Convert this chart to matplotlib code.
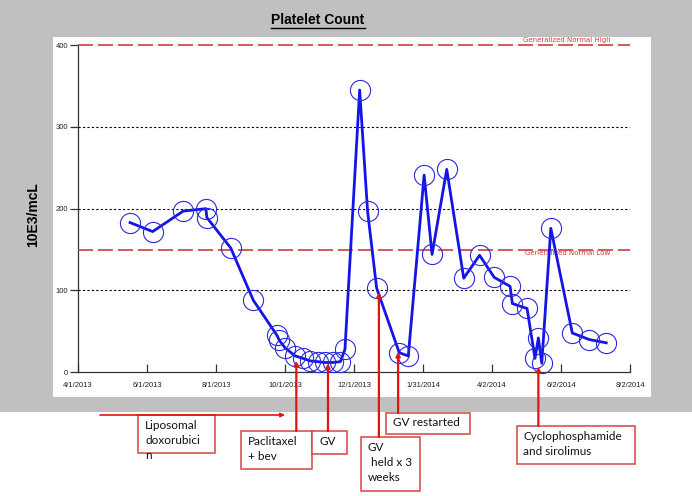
import matplotlib
matplotlib.use("Agg")
from matplotlib import pyplot as plt
from matplotlib.patches import Rectangle
from matplotlib.lines import Line2D
from matplotlib.transforms import blended_transform_factory
import matplotlib.dates as mdates
import pandas as pd

# platelet counts
dates = [
    "2013-05-17", "2013-06-06", "2013-07-03", "2013-07-23", "2013-07-24",
    "2013-08-14", "2013-09-03", "2013-09-24", "2013-09-26", "2013-10-01",
    "2013-10-10", "2013-10-17", "2013-10-23", "2013-10-30", "2013-11-05",
    "2013-11-12", "2013-11-19", "2013-11-23", "2013-12-06", "2013-12-13",
    "2013-12-21", "2014-01-10", "2014-01-18", "2014-02-01", "2014-02-08",
    "2014-02-21", "2014-03-08", "2014-03-22", "2014-04-04", "2014-04-18",
    "2014-04-20", "2014-05-03", "2014-05-10", "2014-05-13", "2014-05-16",
    "2014-05-24", "2014-06-12", "2014-06-27", "2014-07-12",
]
platelets = [
    183, 172, 197, 200, 189,
    152, 88, 45, 39, 30,
    20, 17, 14, 13, 12,
    12, 13, 28, 345, 197,
    103, 24, 20, 241, 144,
    248, 115, 143, 116, 105,
    84, 78, 17, 42, 11,
    176, 48, 40, 36,
]

tick_dates = ["2013-04-01", "2013-06-01", "2013-08-01", "2013-10-01",
              "2013-12-01", "2014-01-31", "2014-04-02", "2014-06-02",
              "2014-08-02"]
tick_labels = ["4/1/2013", "6/1/2013", "8/1/2013", "10/1/2013", "12/1/2013",
               "1/31/2014", "4/2/2014", "6/2/2014", "8/2/2014"]
y_ticks = [0, 100, 200, 300, 400]

normal_high = 400
normal_low = 150

# treatment events: label, date pointed at, count pointed at
events = [
    ("Paclitaxel\n+ bev", "2013-10-11", 14),
    ("GV", "2013-11-08", 11),
    ("GV\n held x 3\nweeks", "2013-12-23", 98),
    ("GV restarted", "2014-01-09", 25),
    ("Cyclophosphamide\nand sirolimus", "2014-05-13", 7),
]
first_treatment = "Liposomal\ndoxorubici\nn"

W, H = 692, 496
fig = plt.figure(figsize=(W / 100, H / 100), dpi=100, facecolor="white")

# pixel-space backdrop
bg = fig.add_axes([0, 0, 1, 1], zorder=0)
bg.set_xlim(0, W)
bg.set_ylim(H, 0)
bg.axis("off")
bg.add_patch(Rectangle((0, 0), W, 412, color="#c0c0c0", lw=0))
bg.add_patch(Rectangle((53, 37), 598, 360, color="white", lw=0))

ax = fig.add_axes([78 / W, 1 - 372.3 / H, 552 / W, 327.3 / H], zorder=1)
ax.set_facecolor("none")

x = pd.to_datetime(dates)
ax.plot(x, platelets, color="#1414e6", lw=2.0, zorder=4, clip_on=False)
ax.plot(x, platelets, ls="none", marker="o", ms=14.5, mfc="none",
        mec="#2a2ae0", mew=0.8, zorder=4, clip_on=False)

for v in y_ticks[1:-1]:
    ax.axhline(v, color="black", ls=(0, (2, 2)), lw=0.8, zorder=2)
for v in (normal_high, normal_low):
    ax.axhline(v, color="#d23c3c", lw=1.2, dashes=(9, 3), zorder=3,
               clip_on=False)

ax.text(0.965, normal_high + 2, "Generalized Normal High", color="#d23c3c",
        fontsize=5, ha="right", va="bottom",
        transform=blended_transform_factory(ax.transAxes, ax.transData))
ax.text(0.965, normal_low - 1, "Generalized Normal Low", color="#d23c3c",
        fontsize=5, ha="right", va="top",
        transform=blended_transform_factory(ax.transAxes, ax.transData))

ax.set_xlim(pd.Timestamp(tick_dates[0]), pd.Timestamp(tick_dates[-1]))
ax.set_ylim(0, 400)
ax.set_xticks(pd.to_datetime(tick_dates))
ax.set_xticklabels(tick_labels, fontsize=5.5, family="Liberation Sans",
                   color="#222222")
ax.set_yticks(y_ticks)
ax.set_yticklabels([str(v) for v in y_ticks], fontsize=5.5,
                   family="Liberation Sans", color="#222222")
ax.tick_params(axis="x", direction="in", length=6, width=0.9,
               color="#333333", pad=7)
ax.tick_params(axis="y", direction="out", length=6, width=0.9,
               color="#333333", pad=1)
for s in ("top", "right"):
    ax.spines[s].set_visible(False)
for s in ("left", "bottom"):
    ax.spines[s].set_color("#333333")
    ax.spines[s].set_linewidth(0.9)

# overlay for the title, y label and treatment boxes
top = fig.add_axes([0, 0, 1, 1], zorder=3)
top.set_xlim(0, W)
top.set_ylim(H, 0)
top.axis("off")
top.patch.set_visible(False)

title = top.text(318, 20, "Platelet Count", fontsize=10, fontweight="bold",
                 family="Liberation Sans", ha="center", va="center")
top.text(33, 215, "10E3/mcL", fontsize=10, fontweight="bold",
         family="Liberation Sans", rotation=90, ha="center", va="center")

fig.canvas.draw()
bb = title.get_window_extent().transformed(top.transData.inverted())
top.add_line(Line2D([bb.x0, bb.x1], [bb.y0 + 1, bb.y0 + 1], color="black",
                    lw=1.0))

red = "#e01414"
box_red = "#d64545"
txt = dict(fontsize=8.5, family=["Lato", "DejaVu Sans"], va="top",
           ha="left", linespacing=1.45, color="#111111")

# boxes: (x, y, w, h) of box, text anchor, tail y of arrow
boxes = [(241, 431, 71, 38), (312, 431, 35, 23), (361, 437, 59, 54),
         (386, 413, 84, 21), (517, 426, 118, 38)]
text_at = [(248, 436), (319, 436), (368, 442), (393, 417), (523, 431)]
tails = [431, 431, 437, 413, 426]

xt = blended_transform_factory(ax.transData, top.transData)
for (label, d, val), (bx, by, bw, bh), (tx, ty), ty0 in zip(
        events, boxes, text_at, tails):
    xd = mdates.date2num(pd.Timestamp(d))
    top.add_patch(Rectangle((bx, by), bw, bh, fc="white", ec=box_red,
                            lw=1.1, zorder=2))
    top.text(tx, ty, label, zorder=3, **txt)
    top.annotate("", xy=(xd, val), xycoords=ax.transData,
                 xytext=(xd, ty0), textcoords=xt, annotation_clip=False,
                 arrowprops=dict(arrowstyle="-|>", color=red, lw=1.6,
                                 shrinkA=0, shrinkB=0, mutation_scale=6),
                 zorder=4)

top.add_patch(Rectangle((138, 415), 77, 38, fc="white", ec=box_red, lw=1.1,
                        zorder=2))
top.text(145, 420, first_treatment, zorder=3, **txt)
top.annotate("", xy=(285, 415), xytext=(100, 415),
             arrowprops=dict(arrowstyle="-|>", color=red, lw=1.2,
                             shrinkA=0, shrinkB=0, mutation_scale=6),
             zorder=4)

fig.savefig("out.png", dpi=100)
